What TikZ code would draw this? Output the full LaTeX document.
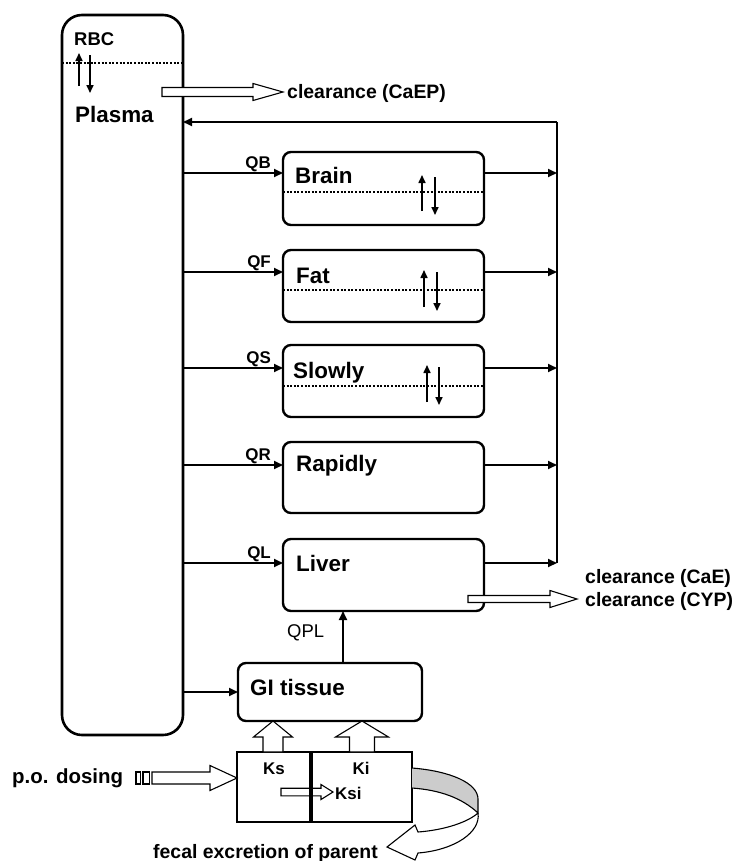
\documentclass[tikz,border=0pt]{standalone}
\usepackage{fontspec}
\setmainfont{Liberation Sans}
\usetikzlibrary{calc,arrows.meta}
\newcommand\blkh[6]{\draw[blk] (#1,{#3-#4}) -- ({#2-#6},{#3-#4}) -- ({#2-#6},{#3-#5}) -- (#2,#3) -- ({#2-#6},{#3+#5}) -- ({#2-#6},{#3+#4}) -- (#1,{#3+#4}) -- cycle;}
\newcommand\blkv[6]{\draw[blk] ({#1-#4},#2) -- ({#1-#4},{#3+#6}) -- ({#1-#5},{#3+#6}) -- (#1,#3) -- ({#1+#5},{#3+#6}) -- ({#1+#4},{#3+#6}) -- ({#1+#4},#2) -- cycle;}
\begin{document}
\begin{tikzpicture}[x=1bp,y=-1bp,
  organ/.style={draw,line width=2.4bp,rounded corners=8bp,inner sep=0pt,outer sep=0pt,minimum width=201bp},
  flow/.style={line width=1.8bp,-{Triangle[length=9bp,width=8bp]}},
  plain/.style={line width=1.8bp},
  dotline/.style={line width=2bp,dash pattern=on 2bp off 1.6bp},
  ud/.style={line width=1.6bp,-{Triangle[length=8bp,width=7bp]}},
  blk/.style={draw,line width=1.1bp,fill=white,line join=miter},
  ttl/.style={inner sep=0pt,anchor=base west,font=\fontsize{22.5}{24}\selectfont\bfseries},
  qlab/.style={inner sep=0pt,anchor=base east,font=\fontsize{17}{19}\selectfont\bfseries},
  small/.style={inner sep=0pt,anchor=base west,font=\fontsize{19.5}{21}\selectfont\bfseries},
  kl/.style={inner sep=0pt,font=\fontsize{17}{19}\selectfont\bfseries},
]
\useasboundingbox (0,0) rectangle (737,861);

% plasma
\node[draw,line width=2.6bp,rounded corners=20bp,minimum width=121bp,minimum height=720bp,inner sep=0pt,outer sep=0pt] (plasma) at (122.5,375) {};
\draw[dotline] (plasma.west |- 0,63) -- (plasma.east |- 0,63);
\node[inner sep=0pt,anchor=base west,font=\fontsize{18.5}{20}\selectfont\bfseries] (rbc) at (74,45) {RBC};
\draw[ud] (79,86) -- (79,53);
\draw[ud] (90,55) -- (90,93);
\node[ttl] (tplasma) at (75,122) {Plasma};

% organ boxes
\node[organ,minimum height=73bp] (brain) at (383.5,188.5) {};
\node[organ,minimum height=72bp] (fat) at (383.5,286) {};
\node[organ,minimum height=72bp] (slowly) at (383.5,381) {};
\node[organ,minimum height=71bp] (rapidly) at (383.5,477.5) {};
\node[organ,minimum height=72bp] (liver) at (383.5,575) {};
\node[organ,minimum width=184bp,minimum height=58bp] (gi) at (330,692) {};

\node[ttl] (tbrain) at (295,183) {Brain};
\node[ttl] (tfat) at (296,283) {Fat};
\node[ttl] (tslowly) at (293,378) {Slowly};
\node[ttl] (trapidly) at (296,471) {Rapidly};
\node[ttl] (tliver) at (296,571) {Liver};
\node[ttl] (tgi) at (250,695) {GI tissue};

% dotted membranes and exchange arrows
\draw[dotline] (brain.west |- 0,192) -- (brain.east |- 0,192);
\draw[dotline] (fat.west |- 0,290) -- (fat.east |- 0,290);
\draw[dotline] (slowly.west |- 0,386) -- (slowly.east |- 0,386);
\draw[ud] (422,211) -- (422,175);
\draw[ud] (435,177) -- (435,215);
\draw[ud] (424,307) -- (424,270);
\draw[ud] (437,272) -- (437,311);
\draw[ud] (427,402) -- (427,365);
\draw[ud] (439,367) -- (439,405);

% inflow / outflow points
\coordinate (cb) at (0,173);
\coordinate (cf) at (0,272);
\coordinate (cs) at (0,368);
\coordinate (cr) at (0,465);
\coordinate (cl) at (0,563);
\coordinate (cg) at (0,692);
\coordinate (ret) at (557,122);
\coordinate (colbot) at (557,563);

\draw[flow] (plasma.east |- cb) -- (brain.west |- cb);
\draw[flow] (plasma.east |- cf) -- (fat.west |- cf);
\draw[flow] (plasma.east |- cs) -- (slowly.west |- cs);
\draw[flow] (plasma.east |- cr) -- (rapidly.west |- cr);
\draw[flow] (plasma.east |- cl) -- (liver.west |- cl);
\draw[flow] (plasma.east |- cg) -- (gi.west |- cg);

\draw[flow] (brain.east |- cb) -- (ret |- cb);
\draw[flow] (fat.east |- cf) -- (ret |- cf);
\draw[flow] (slowly.east |- cs) -- (ret |- cs);
\draw[flow] (rapidly.east |- cr) -- (ret |- cr);
\draw[flow] (liver.east |- cl) -- (ret |- cl);
\draw[plain] (colbot) -- (ret);
\draw[flow] (ret) -- (plasma.east |- ret);

\node[qlab] (qb) at (271,168) {QB};
\node[qlab] (qf) at (271,267) {QF};
\node[qlab] (qs) at (271,363) {QS};
\node[qlab] (qr) at (271,460) {QR};
\node[qlab] (ql) at (271,558) {QL};

% portal flow
\draw[flow] (gi.north -| 343,0) -- (liver.south -| 343,0);
\node[inner sep=0pt,anchor=base west,font=\fontsize{18.5}{20}\selectfont] (qpl) at (287,637) {QPL};

% clearances
\blkh{162}{283}{92}{4.5}{8.5}{30}
\node[small] (clp) at (287,98) {clearance (CaEP)};
\blkh{468}{577}{599}{3.5}{8.5}{27}
\node[small] (cle) at (585,583) {clearance (CaE)};
\node[small] (clc) at (585,606) {clearance (CYP)};

% lumen
\node[draw,line width=2bp,minimum width=175bp,minimum height=70bp,inner sep=0pt,outer sep=0pt] (lumen) at (324.5,787) {};
\blkh{281}{333}{792}{3.8}{7.5}{12}
\draw[line width=4bp] (lumen.north -| 311,0) -- (lumen.south -| 311,0);
\node[kl,anchor=base] (ks) at (274,774) {Ks};
\node[kl,anchor=base] (ki) at (361,774) {Ki};
\node[kl,anchor=base west] (ksi) at (335,799) {Ksi};

% absorption arrows
\blkv{273}{752}{721}{10}{19.5}{16}
\blkv{362}{752}{721}{12.5}{26.5}{16}

% p.o. dosing
\node[inner sep=0pt,anchor=base west,font=\fontsize{20.5}{22}\selectfont\bfseries] (po) at (12,783) {p.o. dosing};
\draw[line width=1.2bp] (136,772) rectangle (140.5,784);
\draw[line width=1.2bp] (143,772) rectangle (149.5,784);
\blkh{152}{237}{778}{6}{12.5}{27}

% fecal excretion curved arrow
\draw[line width=1.1bp,fill=gray!40] (412,768) .. controls (450,771) and (478,783) .. (478,799) -- (478,813) .. controls (462,798) and (440,790) .. (412,788);
\draw[line width=1.1bp,fill=white,line join=miter] (478,813) .. controls (468,822) and (445,830) .. (418,832) -- (415,825) -- (387,847) -- (415,860) -- (418,853) .. controls (455,850) and (481,832) .. (478,813);
\node[inner sep=0pt,anchor=base west,font=\fontsize{19.5}{21}\selectfont\bfseries] (fecal) at (153,858) {fecal excretion of parent};
\end{tikzpicture}
\end{document}
